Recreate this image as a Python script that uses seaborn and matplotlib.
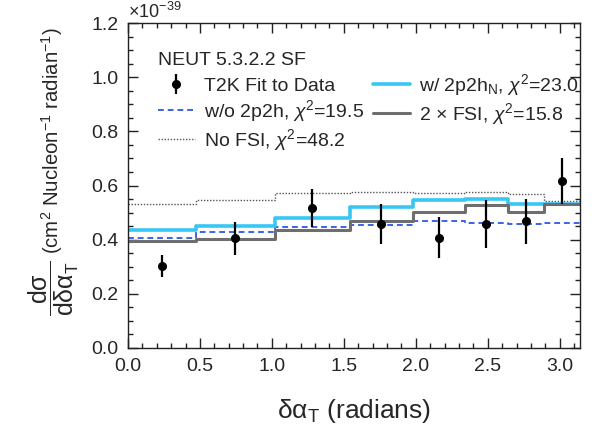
import numpy as np
import pandas as pd
import matplotlib
matplotlib.use('Agg')
import matplotlib.pyplot as plt
import seaborn as sns
from matplotlib.ticker import MultipleLocator, FormatStrFormatter

# bin edges (radians) and data
bin_edges = [0.0, 0.47, 1.02, 1.54, 1.98, 2.34, 2.64, 2.89, 3.1416]
data_x = [0.235, 0.745, 1.28, 1.76, 2.16, 2.49, 2.765, 3.015]
data_y = [0.303, 0.405, 0.516, 0.458, 0.407, 0.458, 0.468, 0.616]
data_err = [0.042, 0.060, 0.070, 0.075, 0.076, 0.089, 0.083, 0.085]

# model predictions per bin
w2p2hN = [0.436, 0.452, 0.479, 0.522, 0.547, 0.550, 0.532, 0.532]
wo2p2h = [0.405, 0.427, 0.448, 0.455, 0.469, 0.460, 0.457, 0.460]
fsi2x = [0.395, 0.402, 0.436, 0.469, 0.503, 0.528, 0.503, 0.530]
nofsi = [0.531, 0.547, 0.571, 0.577, 0.574, 0.577, 0.569, 0.543]

sns.set_style("ticks")
plt.rcParams['font.family'] = ['Liberation Sans', 'DejaVu Sans']
plt.rcParams['mathtext.fontset'] = 'custom'
plt.rcParams['mathtext.rm'] = 'Liberation Sans'
plt.rcParams['mathtext.it'] = 'Liberation Sans:italic'
plt.rcParams['mathtext.sf'] = 'Liberation Sans'

fig = plt.figure(figsize=(5.98, 4.29), dpi=100)
ax = fig.add_axes([0.214, 0.189, 0.756, 0.757])


def step_frame(vals):
    # repeat the last value so the final bin is drawn with steps-post
    return pd.DataFrame({'x': bin_edges, 'y': list(vals) + [vals[-1]]})


sns.lineplot(data=step_frame(nofsi), x='x', y='y', ax=ax, drawstyle='steps-post',
             color='#555555', lw=1.0, linestyle=(0, (1, 1.2)),
             label=r'No FSI, $\chi^2$=48.2')
sns.lineplot(data=step_frame(wo2p2h), x='x', y='y', ax=ax, drawstyle='steps-post',
             color='#3a63e8', lw=1.4, linestyle=(0, (3, 2)),
             label=r'w/o 2p2h, $\chi^2$=19.5')
sns.lineplot(data=step_frame(w2p2hN), x='x', y='y', ax=ax, drawstyle='steps-post',
             color='#38c6f4', lw=2.6, label=r'w/ 2p2h$_\mathrm{N}$, $\chi^2$=23.0')
sns.lineplot(data=step_frame(fsi2x), x='x', y='y', ax=ax, drawstyle='steps-post',
             color='#6e6e6e', lw=2.2, label=r'2 $\times$ FSI, $\chi^2$=15.8')

ax.errorbar(data_x, data_y, yerr=data_err, fmt='o', color='black',
            ms=5.5, elinewidth=1.6, capsize=0, label='T2K Fit to Data', zorder=5)

ax.set_xlim(0, np.pi)
ax.set_ylim(0, 1.2)
ax.xaxis.set_major_locator(MultipleLocator(0.5))
ax.xaxis.set_minor_locator(MultipleLocator(0.1))
ax.yaxis.set_major_locator(MultipleLocator(0.2))
ax.yaxis.set_minor_locator(MultipleLocator(0.05))
ax.xaxis.set_major_formatter(FormatStrFormatter('%.1f'))
ax.yaxis.set_major_formatter(FormatStrFormatter('%.1f'))
ax.tick_params(which='both', direction='in', top=True, right=True,
               labelsize=14, color='#222222')
ax.tick_params(which='major', length=7, width=1.0, pad=7)
ax.tick_params(which='minor', length=3.5, width=1.0)
for s in ax.spines.values():
    s.set_linewidth(1.0)
    s.set_color('#222222')

ax.set_xlabel(r'$\mathrm{δα_T}$ (radians)', fontsize=19, labelpad=16)

# y label: units part plus a separate, larger fraction below it
ax.set_ylabel(r'(cm$^2$ Nucleon$^{-1}$ radian$^{-1}$)', fontsize=14.7)
ax.yaxis.label.set_va('center')
ax.yaxis.set_label_coords(-0.168, 0.638)
ax.text(-0.163, 0.185, r'$\dfrac{\mathrm{dσ}}{\mathrm{dδα_T}}$', transform=ax.transAxes,
        rotation=90, ha='center', va='center', fontsize=18)

ax.text(0.0, 1.003, r'$\times$10$^{-39}$', transform=ax.transAxes,
        ha='left', va='bottom', fontsize=13)

h, l = ax.get_legend_handles_labels()
order = ['T2K Fit to Data', r'w/o 2p2h, $\chi^2$=19.5', r'No FSI, $\chi^2$=48.2',
         r'w/ 2p2h$_\mathrm{N}$, $\chi^2$=23.0', r'2 $\times$ FSI, $\chi^2$=15.8']
hmap = dict(zip(l, h))
ax.legend([hmap[k] for k in order], order, ncol=2, loc='upper left',
          bbox_to_anchor=(0.066, 0.911), frameon=False, fontsize=14,
          title='NEUT 5.3.2.2 SF', title_fontsize=14, alignment='left',
          handlelength=1.9, columnspacing=0.5, handletextpad=0.45,
          labelspacing=0.15, borderaxespad=0, borderpad=0)

fig.savefig('out.png', dpi=100)
